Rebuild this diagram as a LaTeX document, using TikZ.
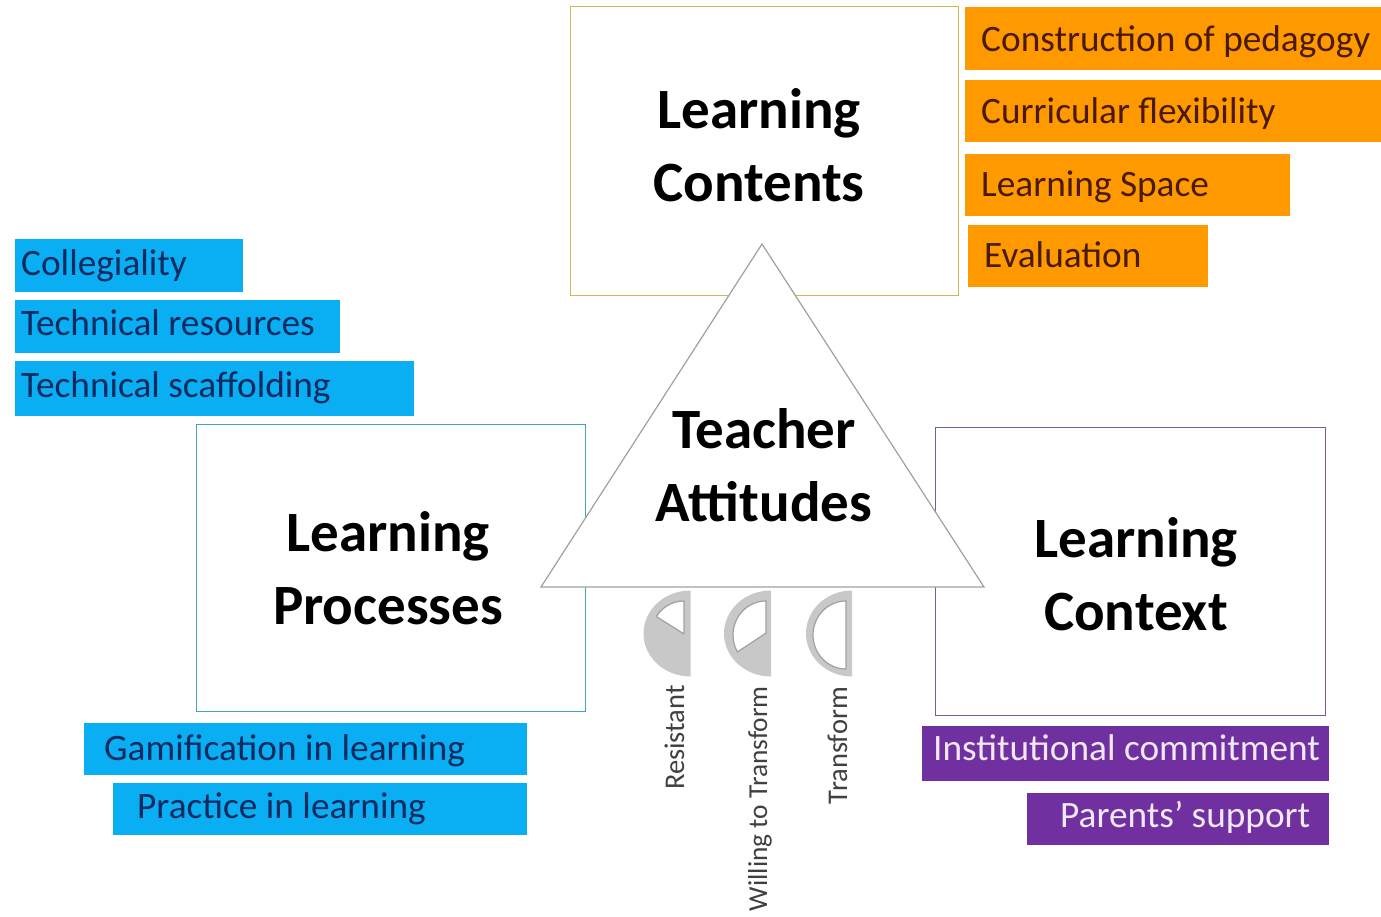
\documentclass[tikz,border=0pt]{standalone}
\usepackage{fontspec}
\setmainfont{Carlito}
\definecolor{orangeb}{HTML}{FF9900}
\definecolor{blueb}{HTML}{0AAEF2}
\definecolor{purpleb}{HTML}{7030A0}
\definecolor{halfgrey}{HTML}{C8C8C8}
\definecolor{innergrey}{HTML}{A0A0A0}
\definecolor{goldline}{HTML}{D0B858}
\definecolor{tealline}{HTML}{40A8B4}
\definecolor{purpline}{HTML}{7A5A9A}
\definecolor{bluetext}{HTML}{0A2A60}
\definecolor{orangetext}{HTML}{4A1A00}
\definecolor{purpletext}{HTML}{F0E8F4}
\tikzset{
  bigbox/.style={draw=#1,line width=1pt,fill=white},
  tag/.style={fill=#1},
  tagtext/.style={anchor=base west,inner sep=0pt,font=\fontsize{37.3}{37.3}\selectfont,text=#1},
  bigtext/.style={align=center,inner sep=0pt,font=\fontsize{57}{73}\selectfont\bfseries,text=black},
  vtext/.style={rotate=90,anchor=base east,inner sep=0pt,font=\fontsize{28.5}{28.5}\selectfont,text=black!75},
  half/.style={fill=halfgrey},
  inner/.style={draw=innergrey,line width=1.2pt,fill=white,line join=round},
}
\begin{document}
\begin{tikzpicture}[x=1pt,y=-1pt]
\useasboundingbox (0,0) rectangle (1381,917);
% big boxes
\path[bigbox=goldline] (570,7) rectangle (958,296);
\path[bigbox=tealline] (196,424) rectangle (585,711);
\path[bigbox=purpline] (935,427) rectangle (1325,715);
% triangle
\path[draw=innergrey,line width=1.2pt,fill=white] (762,244) -- (984,587) -- (541,587) -- cycle;
% big labels
\node[bigtext] (contents) at (759,145) {Learning\\Contents};
\node[bigtext] (processes) at (388,568) {Learning\\Processes};
\node[bigtext] (context) at (1136,574) {Learning\\Context};
\node[bigtext] (teacher) at (764,465) {Teacher\\Attitudes};
% orange
\fill[tag=orangeb] (965,7) rectangle (1381,70);
\fill[tag=orangeb] (965,80) rectangle (1381,142);
\fill[tag=orangeb] (965,154) rectangle (1290,216);
\fill[tag=orangeb] (968,225) rectangle (1208,287);
\node[tagtext=orangetext] (o1) at (981,52) {Construction of pedagogy};
\node[tagtext=orangetext] (o2) at (981,124) {Curricular flexibility};
\node[tagtext=orangetext] (o3) at (981,197) {Learning Space};
\node[tagtext=orangetext] (o4) at (984,268) {Evaluation};
% blue
\fill[tag=blueb] (15,239) rectangle (243,292);
\fill[tag=blueb] (15,300) rectangle (340,353);
\fill[tag=blueb] (15,361) rectangle (414,416);
\fill[tag=blueb] (84,723) rectangle (527,775);
\fill[tag=blueb] (113,783) rectangle (527,835);
\node[tagtext=bluetext] (b1) at (21,276) {Collegiality};
\node[tagtext=bluetext] (b2) at (21,335) {Technical resources};
\node[tagtext=bluetext] (b3) at (21,397) {Technical scaffolding};
\node[tagtext=bluetext] (b4) at (104,760) {Gamification in learning};
\node[tagtext=bluetext] (b5) at (137,818) {Practice in learning};
% purple
\fill[tag=purpleb] (922,726) rectangle (1329,781);
\fill[tag=purpleb] (1027,793) rectangle (1329,845);
\node[tagtext=purpletext] (p1) at (933,760) {Institutional commitment};
\node[tagtext=purpletext] (p2) at (1060,827) {Parents’ support};
% half discs
\fill[half] (690.5,590.5) arc[start angle=270,end angle=90,x radius=47,y radius=43] -- cycle;
\path[inner] (684,601) arc[start angle=270,end angle=213,x radius=33,y radius=34] -- (684,634) -- cycle;
\fill[half] (771,590.5) arc[start angle=270,end angle=90,x radius=47,y radius=43] -- cycle;
\path[inner] (766,601) arc[start angle=270,end angle=150,x radius=33,y radius=34] -- (766,633) -- cycle;
\fill[half] (852,590.5) arc[start angle=270,end angle=90,x radius=46,y radius=43] -- cycle;
\path[inner] (846,601) arc[start angle=270,end angle=90,x radius=33,y radius=34] -- cycle;
% rotated labels
\node[vtext] (r) at (684,685) {Resistant};
\node[vtext,font=\fontsize{27.4}{27.4}\selectfont] (w) at (767,686) {Willing to Transform};
\node[vtext] (t) at (847,687) {Transform};
\end{tikzpicture}
\end{document}
